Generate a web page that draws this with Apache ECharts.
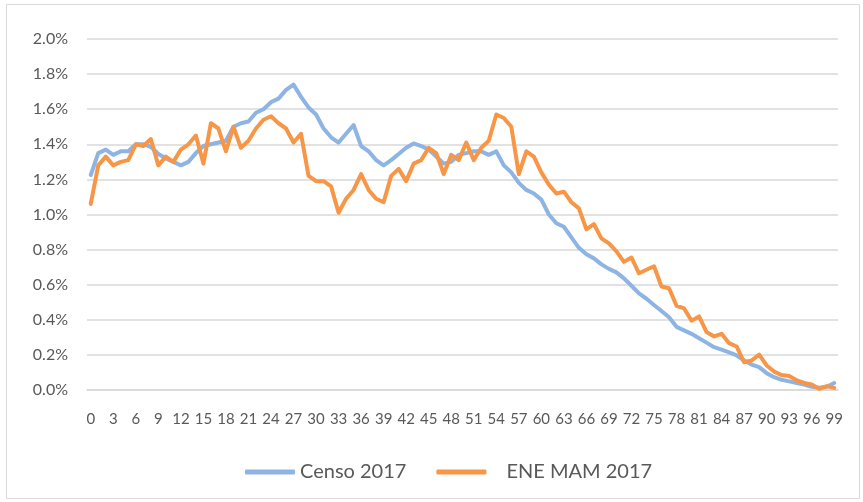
<!DOCTYPE html>
<html lang="es">

<head>
    <meta charset="UTF-8">
    <title>Censo 2017 vs ENE MAM 2017</title>
    <script src="https://cdn.jsdelivr.net/npm/echarts@6/dist/echarts.min.js"></script>
    <style>
        body {
            margin: 0;
            background: #ffffff;
        }

        #chart {
            width: 863px;
            height: 502px;
        }
    </style>
</head>

<body>
    <div id="chart"></div>

    <script>
        // edades 0..99 (etiquetas del eje x)
        const edades = [];
        for (let i = 0; i <= 99; i++) edades.push(String(i));

        // % de población por edad
        const censo2017 = [
            1.225, 1.35, 1.37, 1.34, 1.36, 1.36, 1.40, 1.40,
            1.386, 1.345, 1.32, 1.30, 1.28, 1.30, 1.35, 1.39, 1.40, 1.41, 1.42,
            1.50, 1.52, 1.53, 1.58, 1.60, 1.64, 1.66, 1.71, 1.74,
            1.67, 1.61, 1.57, 1.49, 1.44, 1.41, 1.46, 1.51, 1.39, 1.36, 1.31, 1.28,
            1.31, 1.345, 1.38, 1.405, 1.39, 1.37, 1.33, 1.29,
            1.30, 1.34, 1.35, 1.36, 1.36, 1.34, 1.36, 1.28, 1.24, 1.18, 1.14, 1.12, 1.085, 1.00, 0.95, 0.93,
            0.87, 0.81, 0.773, 0.75, 0.716, 0.69, 0.67, 0.636, 0.594, 0.55, 0.52, 0.484, 0.45, 0.414, 0.36, 0.34, 0.32,
            0.295, 0.27, 0.244, 0.23, 0.214, 0.197, 0.168, 0.145, 0.13, 0.096, 0.073,
            0.058, 0.049, 0.04, 0.031, 0.018, 0.013, 0.018, 0.04
        ];

        const eneMam2017 = [
            1.06, 1.28, 1.33, 1.28, 1.30, 1.31, 1.40, 1.39, 1.43, 1.28, 1.33,
            1.30, 1.37, 1.40, 1.45, 1.29, 1.52, 1.49, 1.36, 1.50, 1.38,
            1.42, 1.49, 1.54, 1.56, 1.52, 1.49, 1.41, 1.46, 1.22, 1.19,
            1.19, 1.16, 1.01, 1.09, 1.14, 1.23, 1.14, 1.09, 1.07,
            1.22, 1.26, 1.19, 1.29, 1.31, 1.38, 1.35, 1.23, 1.34, 1.31,
            1.41, 1.31, 1.38, 1.42, 1.57, 1.55, 1.50, 1.23, 1.36, 1.33,
            1.24, 1.17, 1.12, 1.13, 1.07, 1.035, 0.915, 0.945, 0.864, 0.835,
            0.79, 0.73, 0.755, 0.665, 0.685, 0.705, 0.59, 0.58, 0.48, 0.465, 0.395,
            0.419, 0.33, 0.305, 0.32, 0.267, 0.248, 0.158, 0.168, 0.202, 0.14, 0.105,
            0.085, 0.08, 0.055, 0.04, 0.031, 0.007, 0.022, 0.012
        ];

        const nombres = ['Censo 2017', 'ENE MAM 2017'];
        const colores = ['#8db4e2', '#f79646'];

        const chart = echarts.init(document.getElementById('chart'));

        chart.setOption({
            animation: false,
            textStyle: { fontFamily: 'Lato', color: '#595959' },
            graphic: [{
                type: 'rect',
                left: 4, top: 2,
                shape: { width: 853, height: 494 },
                style: { fill: 'none', stroke: '#d9d9d9', lineWidth: 1 }
            }],
            grid: { left: 87, right: 25, top: 39, bottom: 112 },
            legend: {
                data: nombres,
                left: 240,
                top: 457,
                icon: 'roundRect',
                itemWidth: 50,
                itemHeight: 5,
                itemGap: 30,
                textStyle: {
                    fontSize: 20,
                    color: '#595959',
                    rich: { pad: { fontSize: 20, color: '#595959', padding: [0, 0, 0, 15] } }
                },
                formatter: name => name === 'ENE MAM 2017' ? '{pad|' + name + '}' : name
            },
            xAxis: {
                type: 'category',
                data: edades,
                boundaryGap: true,
                axisLine: { lineStyle: { color: '#d9d9d9', width: 1.5 } },
                axisTick: { show: false },
                axisLabel: { interval: 2, fontSize: 15, color: '#595959', margin: 22 }
            },
            yAxis: {
                type: 'value',
                min: 0,
                max: 2,
                interval: 0.2,
                axisLine: { show: false },
                axisTick: { show: false },
                splitLine: { lineStyle: { color: '#d9d9d9', width: 1.5 } },
                axisLabel: {
                    fontSize: 16,
                    color: '#595959',
                    margin: 19,
                    formatter: v => v.toFixed(1) + '%'
                }
            },
            series: [{
                name: nombres[0],
                type: 'line',
                data: censo2017,
                symbol: 'none',
                itemStyle: { color: colores[0] },
                lineStyle: { color: colores[0], width: 4, cap: 'round', join: 'round' }
            }, {
                name: nombres[1],
                type: 'line',
                data: eneMam2017,
                symbol: 'none',
                itemStyle: { color: colores[1] },
                lineStyle: { color: colores[1], width: 4, cap: 'round', join: 'round' }
            }]
        });

        window.addEventListener('resize', () => chart.resize());
    </script>
</body>

</html>
